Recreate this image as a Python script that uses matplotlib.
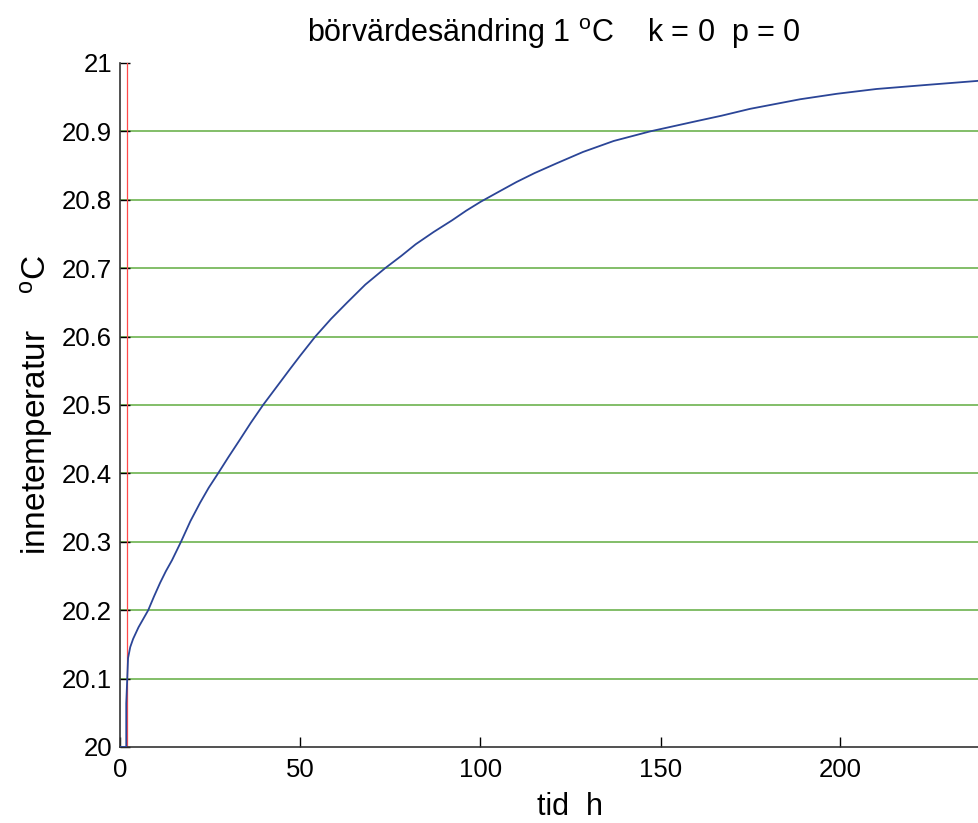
import matplotlib
matplotlib.use("Agg")
import matplotlib.pyplot as plt

plt.rcParams['font.family'] = ['Liberation Sans', 'DejaVu Sans']
plt.rcParams['mathtext.fontset'] = 'custom'
plt.rcParams['mathtext.rm'] = 'Liberation Sans'
plt.rcParams['mathtext.it'] = 'Liberation Sans'

# data
time_h = [0, 1.6, 1.6, 2.1, 2.7, 3.5, 5, 7.7, 9.3, 11, 12.6, 14.3, 16.8, 19.4,
          22.1, 24.5, 27.1, 30, 33, 36.2, 39.6, 44.3, 47, 49.9, 54.1, 58.5,
          63, 68, 73.5, 78, 82, 87, 92.1, 96, 100, 105.5, 110, 115, 121,
          128.5, 137, 147.1, 160, 167, 174.9, 188.8, 199, 210, 224, 238.5, 250]
temp = [20.0, 20.0, 20.064, 20.13, 20.146, 20.158, 20.175, 20.2, 20.22, 20.24,
        20.257, 20.273, 20.3, 20.33, 20.357, 20.379, 20.4, 20.424, 20.448,
        20.474, 20.5, 20.533, 20.552, 20.572, 20.6, 20.626, 20.65, 20.676,
        20.7, 20.718, 20.735, 20.753, 20.77, 20.784, 20.797, 20.813, 20.826,
        20.839, 20.853, 20.87, 20.886, 20.9, 20.915, 20.923, 20.933, 20.947,
        20.955, 20.962, 20.968, 20.974, 20.979]
step_time = 1.8
y_ticks = [20.0, 20.1, 20.2, 20.3, 20.4, 20.5, 20.6, 20.7, 20.8, 20.9, 21.0]
y_labels = ['20', '20.1', '20.2', '20.3', '20.4', '20.5', '20.6', '20.7', '20.8', '20.9', '21']
x_ticks = [0, 50, 100, 150, 200]

W, H = 979, 823
x_max = 250
px_per_unit = 3.6
fig = plt.figure(figsize=(W / 100, H / 100), dpi=100)
ax = fig.add_axes([120.5 / W, (H - 747) / H, x_max * px_per_unit / W, (747 - 63) / H])

ax.set_xlim(0, x_max)
ax.set_ylim(20, 21)

# horizontal grid (interior only)
ax.hlines(y_ticks[1:-1], 0, x_max, colors='#6db34f', linewidth=1.2, zorder=1)

ax.axvline(step_time, color='#ff4a4a', linewidth=0.9, zorder=2)
ax.plot(time_h, temp, color='#2b4597', linewidth=1.3, zorder=3)

ax.set_yticks(y_ticks)
ax.set_yticklabels(y_labels)
ax.set_xticks(x_ticks)
ax.tick_params(direction='in', length=7, width=1, labelsize=18.5, colors='black', pad=8)
ax.tick_params(axis='y', pad=6)

for s in ['top', 'right']:
    ax.spines[s].set_visible(False)
for s in ['left', 'bottom']:
    ax.spines[s].set_color('#333333')
    ax.spines[s].set_linewidth(1.2)

fig.text(307 / W, 1 - 42 / H, r'börvärdesändring 1 $^{\mathrm{o}}$C    k = 0  p = 0',
         fontsize=22, ha='left', va='baseline')
ax.set_xlabel('tid  h', fontsize=22, labelpad=7)
ax.set_ylabel(r'innetemperatur    $^{\mathrm{o}}$C', fontsize=24, labelpad=5)

fig.savefig('out.png', dpi=100)
